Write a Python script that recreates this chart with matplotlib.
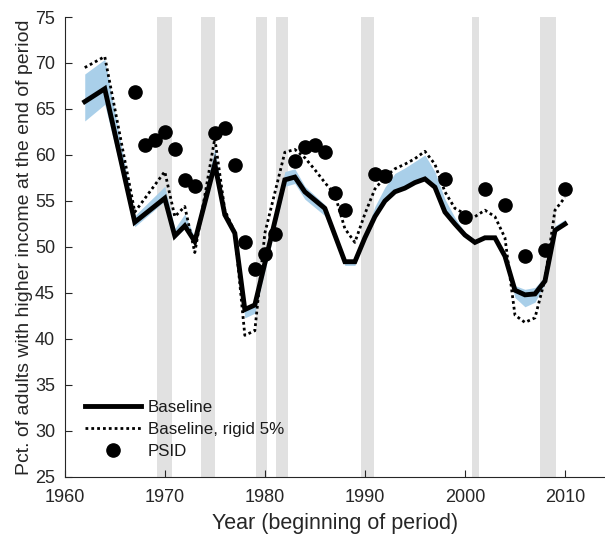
import numpy as np
import matplotlib
matplotlib.use("Agg")
import matplotlib.pyplot as plt

plt.rcParams['font.family'] = ['Liberation Sans', 'DejaVu Sans']

# recession periods (shaded)
rec_start = [1969.2, 1973.6, 1979.1, 1981.1, 1989.6, 2000.7, 2007.5]
rec_end = [1970.7, 1975.0, 1980.2, 1982.3, 1990.9, 2001.4, 2009.1]

# baseline model
base_years = [1962, 1964, 1967, 1970, 1971, 1972, 1973, 1975, 1976, 1977, 1978, 1979,
              1982, 1983, 1984, 1986, 1988, 1989, 1990, 1991, 1992, 1993, 1994, 1995,
              1996, 1997, 1998, 1999, 2000, 2001, 2002, 2003, 2004, 2005, 2006, 2007,
              2008, 2009, 2010]
base_vals = [65.8, 67.2, 52.7, 55.3, 51.2, 52.3, 50.6, 59.0, 53.5, 51.5, 43.2, 43.7,
             57.3, 57.6, 56.0, 54.2, 48.4, 48.4, 51.0, 53.3, 55.0, 56.0, 56.4, 57.0,
             57.4, 56.5, 53.8, 52.5, 51.3, 50.5, 51.0, 51.0, 49.0, 45.3, 44.8, 44.9,
             46.3, 51.8, 52.5]
band_lo = [63.7, 65.5, 52.2, 55.0, 51.0, 52.0, 50.3, 58.6, 53.2, 51.2, 42.3, 42.8,
           56.6, 56.9, 55.2, 53.4, 48.0, 48.0, 50.8, 53.2, 54.9, 55.9, 56.3, 56.9,
           57.3, 56.5, 54.0, 52.4, 51.2, 50.4, 50.9, 50.9, 48.8, 44.5, 43.5, 44.0,
           46.0, 51.6, 52.4]
band_hi = [68.8, 70.4, 53.4, 56.6, 52.0, 53.6, 51.0, 60.8, 54.0, 51.8, 43.5, 44.0,
           58.2, 58.5, 56.6, 54.6, 48.6, 48.6, 51.3, 54.4, 56.5, 58.0, 58.6, 59.3,
           60.0, 58.2, 55.2, 53.2, 51.6, 50.8, 51.2, 51.2, 49.3, 45.8, 45.4, 45.6,
           46.8, 52.3, 53.0]

# baseline with rigid 5%
rigid_years = [1962, 1964, 1967, 1970, 1971, 1972, 1973, 1975, 1976, 1977, 1978, 1979,
               1980, 1982, 1983, 1984, 1985, 1986, 1987, 1988, 1989, 1990, 1991, 1992,
               1993, 1994, 1995, 1996, 1997, 1998, 1999, 2000, 2001, 2002, 2003, 2004,
               2005, 2006, 2007, 2008, 2009, 2010]
rigid_vals = [69.5, 70.7, 53.8, 58.2, 53.3, 54.4, 49.4, 61.8, 54.0, 51.6, 40.4, 40.9,
              51.5, 60.3, 60.6, 59.7, 58.4, 57.0, 55.7, 52.0, 50.5, 53.6, 56.3, 57.6,
              58.5, 59.0, 59.6, 60.4, 59.0, 56.0, 54.2, 53.6, 53.3, 54.0, 53.3, 51.0,
              42.6, 41.8, 42.3, 46.5, 54.0, 55.4]

# PSID observations
psid_years = [1967, 1968, 1969, 1970, 1971, 1972, 1973, 1975, 1976, 1977, 1978, 1979,
              1980, 1981, 1983, 1984, 1985, 1986, 1987, 1988, 1991, 1992, 1998, 2000,
              2002, 2004, 2006, 2008, 2010]
psid_vals = [66.9, 61.1, 61.6, 62.5, 60.6, 57.3, 56.6, 62.4, 62.9, 58.9, 50.5, 47.6,
             49.2, 51.4, 59.3, 60.9, 61.1, 60.3, 55.9, 54.0, 57.9, 57.7, 57.4, 53.3,
             56.3, 54.6, 49.0, 49.7, 56.3]

fig = plt.figure(figsize=(6.05, 5.38), dpi=100)
ax = fig.add_axes([0.107, 0.1134, 0.893, 0.855])

for s, e in zip(rec_start, rec_end):
    ax.axvspan(s, e, color='#e1e1e1', lw=0, zorder=0)

ax.fill_between(base_years, band_lo, band_hi, color='#a9cfe9', lw=0, zorder=1)
ax.plot(base_years, base_vals, color='black', lw=3.5, zorder=3,
        solid_joinstyle='miter', label='Baseline')
ax.plot(rigid_years, rigid_vals, color='black', lw=2.0, ls=(0, (1, 1.1)), zorder=3,
        label='Baseline, rigid 5%')
ax.plot(psid_years, psid_vals, 'o', color='black', ms=9.5, zorder=4, label='PSID')

ax.set_xlim(1960, 2014)
ax.set_ylim(25, 75)
ax.set_xticks(range(1960, 2011, 10))
ax.set_yticks(range(25, 76, 5))
for sp in ['top', 'right']:
    ax.spines[sp].set_visible(False)
for sp in ['left', 'bottom']:
    ax.spines[sp].set_color('#262626')
    ax.spines[sp].set_linewidth(0.8)
ax.tick_params(direction='in', length=5, width=0.8, color='#262626',
               labelsize=13, labelcolor='#262626')
ax.tick_params(axis='x', pad=9)
ax.tick_params(axis='y', pad=7)
ax.set_xlabel('Year (beginning of period)', fontsize=15.5, color='#262626', labelpad=5)
ax.set_ylabel('Pct. of adults with higher income at the end of period', fontsize=14,
              color='#262626', labelpad=1)

leg = ax.legend(loc='lower left', bbox_to_anchor=(0.01, 0.006), frameon=False,
                fontsize=12.2, handlelength=3.3, handletextpad=0.4, labelspacing=0.4)
for t in leg.get_texts():
    t.set_color('#1a1a1a')

fig.savefig('out.png', dpi=100)
